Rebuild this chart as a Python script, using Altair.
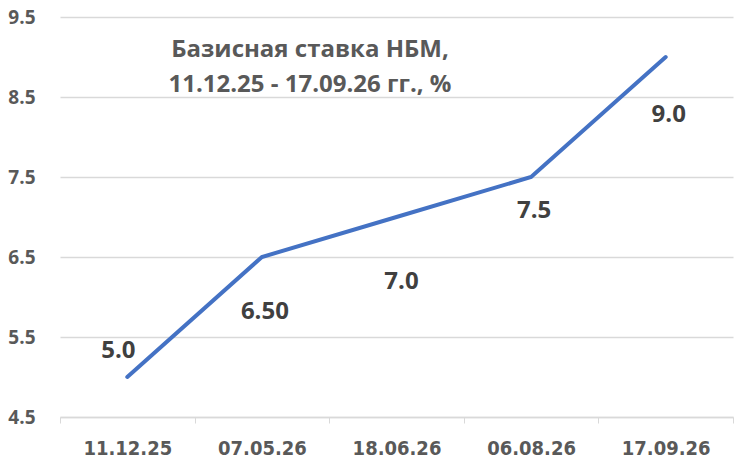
import altair as alt
import pandas as pd

dates = ["11.12.25", "07.05.26", "18.06.26", "06.08.26", "17.09.26"]
rates = [5.0, 6.5, 7.0, 7.5, 9.0]
labels = ["5.0", "6.50", "7.0", "7.5", "9.0"]
y_ticks = [4.5, 5.5, 6.5, 7.5, 8.5, 9.5]
title_lines = ["Базисная ставка НБМ,", "11.12.25 - 17.09.26 гг., %"]

df = pd.DataFrame({"date": dates, "rate": rates, "label": labels})

x_enc = alt.X("date:N", sort=dates, title=None,
              scale=alt.Scale(paddingInner=0, paddingOuter=0),
              axis=alt.Axis(labelAngle=0, labelFont="DejaVu Sans Condensed",
                            labelFontSize=20, labelFontWeight="bold",
                            labelColor="#595959", labelPadding=15,
                            tickBand="extent", tickSize=6, tickColor="#d9d9d9",
                            domainColor="#d9d9d9", domainWidth=1.5, grid=False))
y_enc = alt.Y("rate:Q", title=None,
              scale=alt.Scale(domain=[4.5, 9.5], nice=False, zero=False),
              axis=alt.Axis(values=y_ticks, format=".1f", labelFont="Open Sans",
                            labelFontSize=19, labelFontWeight="bold",
                            labelColor="#595959", labelPadding=25, ticks=False,
                            domain=False, gridColor="#d9d9d9", gridWidth=1.5))

base = alt.Chart(df)
line = base.mark_line(color="#4472C4", strokeWidth=4, strokeCap="round").encode(x=x_enc, y=y_enc)

offsets = [(-9, -26), (3, 55), (5, 65), (3, 34), (3, 58)]
text_layers = []
for d, (dx, dy) in zip(dates, offsets):
    text_layers.append(
        base.transform_filter(alt.datum.date == d).mark_text(
            font="Open Sans", fontSize=24, fontWeight="bold", color="#404040",
            dx=dx, dy=dy, baseline="middle", align="center"
        ).encode(x=alt.X("date:N", sort=dates), y=alt.Y("rate:Q"), text="label:N")
    )

title_layers = []
for t, yy in zip(title_lines, [33, 68]):
    title_layers.append(
        alt.Chart(pd.DataFrame({"t": [t]})).mark_text(
            font="Open Sans", fontSize=24, fontWeight="bold", color="#595959",
            align="center", baseline="middle"
        ).encode(x=alt.value(250), y=alt.value(yy), text="t:N")
    )

chart = alt.layer(line, *text_layers, *title_layers).properties(
    width=673, height=400,
    padding={"left": 52, "top": 9, "right": 11, "bottom": 42},
    autosize=alt.AutoSizeParams(type="none"),
    background="white"
).configure_view(stroke=None)

chart.save("out.html", embed_options={"renderer": "svg", "actions": False})
